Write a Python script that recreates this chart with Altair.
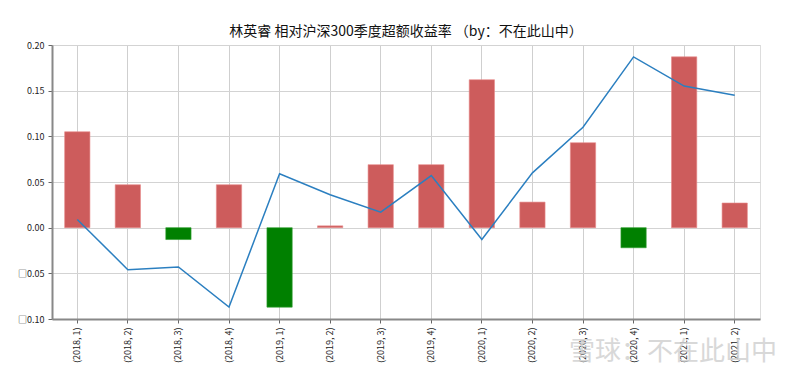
import altair as alt
import pandas as pd

quarters = ["(2018, 1)", "(2018, 2)", "(2018, 3)", "(2018, 4)",
            "(2019, 1)", "(2019, 2)", "(2019, 3)", "(2019, 4)",
            "(2020, 1)", "(2020, 2)", "(2020, 3)", "(2020, 4)",
            "(2021, 1)", "(2021, 2)"]
excess = [0.105, 0.047, -0.013, 0.047, -0.087, 0.002, 0.069, 0.069,
          0.162, 0.028, 0.093, -0.022, 0.187, 0.027]
line_vals = [0.009, -0.046, -0.043, -0.087, 0.059, 0.036, 0.017, 0.057,
             -0.013, 0.060, 0.110, 0.187, 0.155, 0.145]
y_ticks = [-0.10, -0.05, 0.0, 0.05, 0.10, 0.15, 0.20]

df = pd.DataFrame({"q": quarters, "excess": excess, "line": line_vals})
df["sign"] = ["pos" if v >= 0 else "neg" for v in excess]

FONT = "Noto Sans CJK SC"

xenc = alt.X("q:N", sort=quarters,
             scale=alt.Scale(paddingInner=0.5, paddingOuter=0.25),
             axis=alt.Axis(title=None, labelAngle=270, labelFontSize=9, labelFont=FONT,
                           labelColor="#222", grid=True, gridColor="#cfcfcf",
                           bandPosition=0.5, tickSize=4, tickColor="#666",
                           domainColor="#888", domainWidth=2, labelPadding=4))
yscale = alt.Scale(domain=[-0.10, 0.20], nice=False, zero=False)
yaxis = alt.Axis(title=None, values=y_ticks, labelFontSize=9, labelFont=FONT,
                 labelColor="#222",
                 labelExpr="datum.value < 0 ? '□' + format(abs(datum.value), '.2f') : format(datum.value, '.2f')",
                 gridColor="#d3d3d3", tickSize=4, tickColor="#666",
                 domainColor="#888", domainWidth=2, labelPadding=4)

bars = alt.Chart(df).mark_bar(strokeWidth=1, strokeOpacity=0.6).encode(
    x=xenc,
    y=alt.Y("excess:Q", scale=yscale, axis=yaxis),
    color=alt.Color("sign:N", scale=alt.Scale(domain=["pos", "neg"], range=["#cd5c5c", "#008000"]), legend=None),
    stroke=alt.Stroke("sign:N", scale=alt.Scale(domain=["pos", "neg"], range=["#e88a8a", "#33a033"]), legend=None),
)

line = alt.Chart(df).mark_line(color="#2b7fc0", strokeWidth=1.5).encode(
    x=alt.X("q:N", sort=quarters),
    y=alt.Y("line:Q", scale=yscale),
)

wm = alt.Chart(pd.DataFrame({"t": ["雪球：不在此山中"]})).mark_text(
    align="right", baseline="middle", fontSize=26, font=FONT, color="#d2d2d2",
    opacity=0.85, clip=False
).encode(text="t:N", x=alt.value(725), y=alt.value(307))

chart = alt.layer(bars, line, wm).properties(
    width=708, height=274,
    autosize=alt.AutoSizeParams(type="none"),
    padding={"left": 44, "top": 37, "right": 32, "bottom": 54},
    title=alt.Title("林英睿 相对沪深300季度超额收益率 （by：不在此山中）",
                    font=FONT, fontSize=14, fontWeight="normal", color="#111",
                    anchor="middle", offset=2),
).configure_view(stroke="#333", strokeWidth=1).configure(background="white")

chart.save("out.html", embed_options={"renderer": "svg", "actions": False})
